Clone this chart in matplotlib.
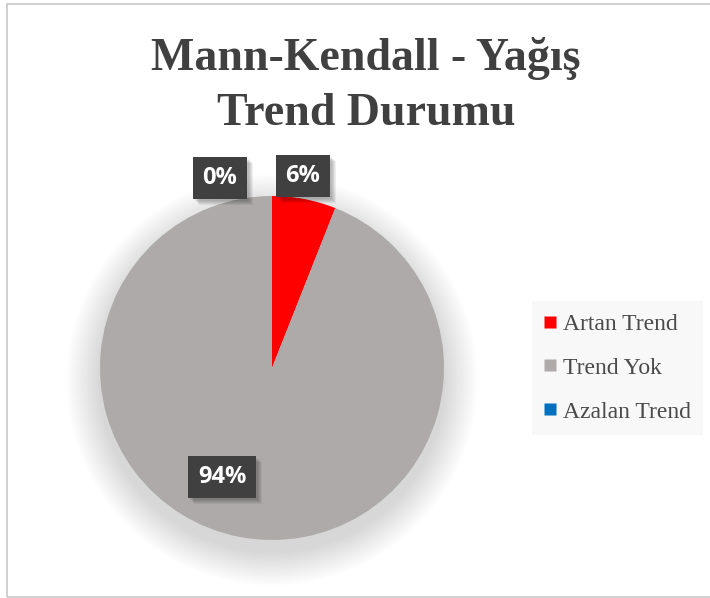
import matplotlib.pyplot as plt
from matplotlib.patches import Circle, Rectangle
from matplotlib.lines import Line2D

categories = ['Artan Trend', 'Trend Yok', 'Azalan Trend']
values = [6, 94, 0]
colors = ['#ff0000', '#aeaaaa', '#0070c0']
label_pos = [(303, 176), (222, 477), (220, 178)]   # pixel positions of the label boxes
title = 'Mann-Kendall - Yağış\nTrend Durumu'

W, H = 710, 598
fig = plt.figure(figsize=(W / 100, H / 100), dpi=100)
fig.patch.set_facecolor('white')

# axes in pixel units, y pointing up
ax = fig.add_axes([0, 0, 1, 1])

cx, cy, R = 272, H - 368, 172

# chart border
ax.add_patch(Rectangle((7, 1), W, H - 5, fill=False, edgecolor='#c8c8c8', lw=1.2))

# soft shadow under the pie
n = 40
for i in range(n):
    ax.add_patch(Circle((cx, cy - 12), R + 34 * (1 - i / n), facecolor='black',
                        edgecolor='none', alpha=0.005, zorder=1))

wedges, _ = ax.pie(values, colors=colors, startangle=90, counterclock=False,
                   center=(cx, cy), radius=R, frame=True,
                   wedgeprops=dict(edgecolor='none'))
for w in wedges:
    w.set_zorder(2)
ax.set_xlim(0, W)
ax.set_ylim(0, H)
ax.set_aspect('auto')
ax.axis('off')

total = sum(values)
labels = []
for v, (px, py) in zip(values, label_pos):
    txt = f'{round(100 * v / total)}%'
    t = ax.text(px, H - py, txt, ha='center', va='center', fontsize=17,
                family='Open Sans', fontweight='bold', color='white', zorder=4,
                bbox=dict(boxstyle='square,pad=0.4', facecolor='#404040', edgecolor='none'))
    labels.append(t)

fig.text(366 / W, 1 - 86 / H, title, ha='center', va='center', fontsize=33,
         family='Liberation Serif', fontweight='bold', color='#404040', linespacing=1.42)

handles = [Line2D([], [], marker='s', linestyle='none', markersize=9,
                  markerfacecolor=c, markeredgecolor='none') for c in colors]
leg = fig.legend(handles, categories, loc='center left', bbox_to_anchor=(532 / W, 1 - 368 / H),
                 frameon=True, fancybox=False, prop=dict(family='Liberation Serif', size=17),
                 handlelength=0.5, handletextpad=0.3, labelspacing=0.95, borderpad=0.5,
                 borderaxespad=0)
leg.get_frame().set_facecolor('#f7f7f7')
leg.get_frame().set_edgecolor('none')
for t in leg.get_texts():
    t.set_color('#4a4a4a')

# soft shadows behind the label boxes
fig.canvas.draw()
r = fig.canvas.get_renderer()
for t in labels:
    bb = t.get_bbox_patch().get_window_extent(r)
    for k in range(5):
        ax.add_patch(Rectangle((bb.x0 + 2 + k, bb.y0 - 2 - k), bb.width, bb.height,
                               facecolor='black', edgecolor='none', alpha=0.06, zorder=3))

fig.savefig('out.png', dpi=100)
